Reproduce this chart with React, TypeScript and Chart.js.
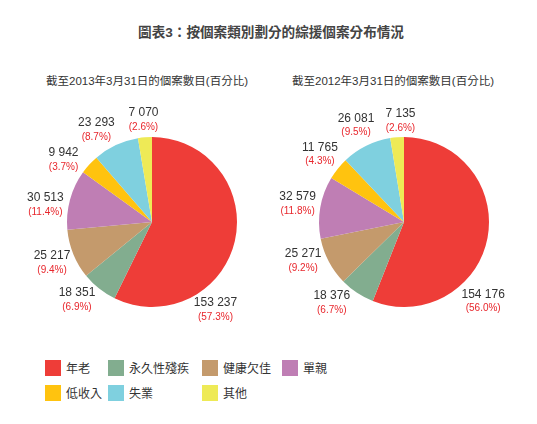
import { useEffect, useRef } from "react";
import { Chart, registerables } from "chart.js";

Chart.register(...registerables);

const FONT = "'Liberation Sans', Arial, 'Noto Sans CJK TC', sans-serif";

const categories = ["年老", "永久性殘疾", "健康欠佳", "單親", "低收入", "失業", "其他"];
const colors = ["#EE3D38", "#82AD8F", "#C49A6C", "#BF7EB4", "#FFC30F", "#7FD0DF", "#EEEA56"];

const cases2013 = [153237, 18351, 25217, 30513, 9942, 23293, 7070];
const pct2013 = ["57.3", "6.9", "9.4", "11.4", "3.7", "8.7", "2.6"];

const cases2012 = [154176, 18376, 25271, 32579, 11765, 26081, 7135];
const pct2012 = ["56.0", "6.7", "9.2", "11.8", "4.3", "9.5", "2.6"];

const fmt = (n: number) => String(n).replace(/\B(?=(\d{3})+(?!\d))/g, " ");

// draws "value (pct%)" outside each slice, at the slice's mid angle unless overridden
const outsideLabels = {
  id: "outsideLabels",
  afterDraw(chart: any, _args: any, opts: any) {
    const { ctx } = chart;
    const meta = chart.getDatasetMeta(0);
    const data = chart.data.datasets[0].data;
    ctx.save();
    ctx.textAlign = "center";
    ctx.textBaseline = "middle";
    meta.data.forEach((arc: any, i: number) => {
      const { x, y, startAngle, endAngle } = arc.getProps(
        ["x", "y", "startAngle", "endAngle"],
        true
      );
      let a = (startAngle + endAngle) / 2;
      if (opts.angles && opts.angles[i] != null) {
        a = (opts.angles[i] * Math.PI) / 180 - Math.PI / 2;
      }
      const r = (opts.radii && opts.radii[i]) || opts.radius || 108;
      const lx = x + r * Math.cos(a);
      const ly = y + r * Math.sin(a);
      ctx.font = `12px ${FONT}`;
      ctx.fillStyle = "#333";
      ctx.fillText(fmt(data[i]), lx, ly - 7);
      ctx.font = `10px ${FONT}`;
      ctx.fillStyle = "#E8262C";
      ctx.fillText(`(${opts.pct[i]}%)`, lx, ly + 7.5);
    });
    ctx.restore();
  },
};

type PieProps = {
  values: number[];
  pct: string[];
  angles: Record<number, number>;
  radii: Record<number, number>;
  left: number;
  width: number;
  padLeft: number;
};

const Pie = ({ values, pct, angles, radii, left, width, padLeft }: PieProps) => {
  const canvasRef = useRef<HTMLCanvasElement>(null);

  useEffect(() => {
    if (!canvasRef.current) return;
    const chart = new Chart(canvasRef.current, {
      type: "pie",
      data: {
        labels: categories,
        datasets: [
          {
            data: values,
            backgroundColor: colors,
            borderWidth: 0,
            hoverOffset: 0,
          },
        ],
      },
      options: {
        animation: false,
        responsive: true,
        maintainAspectRatio: false,
        layout: {
          padding: { left: padLeft, right: width - padLeft - 170, top: 37, bottom: 33 },
        },
        plugins: {
          legend: { display: false },
          tooltip: { enabled: false },
          outsideLabels: { pct, angles, radii, radius: 108 },
        } as any,
      },
      plugins: [outsideLabels],
    });
    return () => chart.destroy();
  }, [values, pct, angles, radii, width, padLeft]);

  return (
    <div style={{ position: "absolute", left, top: 100, width, height: 240 }}>
      <canvas ref={canvasRef} />
    </div>
  );
};

const subtitleStyle = {
  position: "absolute" as const,
  top: 72,
  width: 260,
  textAlign: "center" as const,
  fontSize: 11.5,
  lineHeight: "18px",
  color: "#333",
};

const angles2013 = { 0: 144, 1: 224, 3: 279, 4: 305, 5: 329 };
const angles2012 = { 0: 135, 1: 222, 2: 249, 6: 358 };

export default function App() {
  return (
    <div
      style={{
        position: "fixed",
        left: 0,
        top: 0,
        width: 537,
        height: 424,
        background: "#fff",
        fontFamily: FONT,
      }}
    >
      <div
        style={{
          position: "absolute",
          top: 24,
          left: 0,
          width: 542,
          textAlign: "center",
          fontSize: 13.6,
          fontWeight: "bold",
          lineHeight: "18px",
          color: "#444",
        }}
      >
        圖表3：按個案類別劃分的綜援個案分布情況
      </div>
      <div style={{ ...subtitleStyle, left: 17 }}>截至2013年3月31日的個案數目(百分比)</div>
      <div style={{ ...subtitleStyle, left: 263 }}>截至2012年3月31日的個案數目(百分比)</div>

      <Pie values={cases2013} pct={pct2013} angles={angles2013} radii={{ 6: 103 }} left={0} width={268} padLeft={67} />
      <Pie values={cases2012} pct={pct2012} angles={angles2012} radii={{ 0: 112, 6: 101 }} left={268} width={269} padLeft={51} />

      <div
        style={{
          position: "absolute",
          left: 45,
          top: 359,
          display: "grid",
          gridTemplateColumns: "63px 94px 80px 80px",
          rowGap: 8,
        }}
      >
        {categories.map((c, i) => (
          <div
            key={c}
            style={{
              display: "flex",
              alignItems: "center",
              gridColumn: i < 4 ? i + 1 : i === 6 ? 3 : i - 3,
              gridRow: i < 4 ? 1 : 2,
            }}
          >
            <span
              style={{
                width: 16,
                height: 16,
                background: colors[i],
                display: "inline-block",
                marginRight: 5,
              }}
            />
            <span style={{ fontSize: 12, color: "#333" }}>{c}</span>
          </div>
        ))}
      </div>
    </div>
  );
}
